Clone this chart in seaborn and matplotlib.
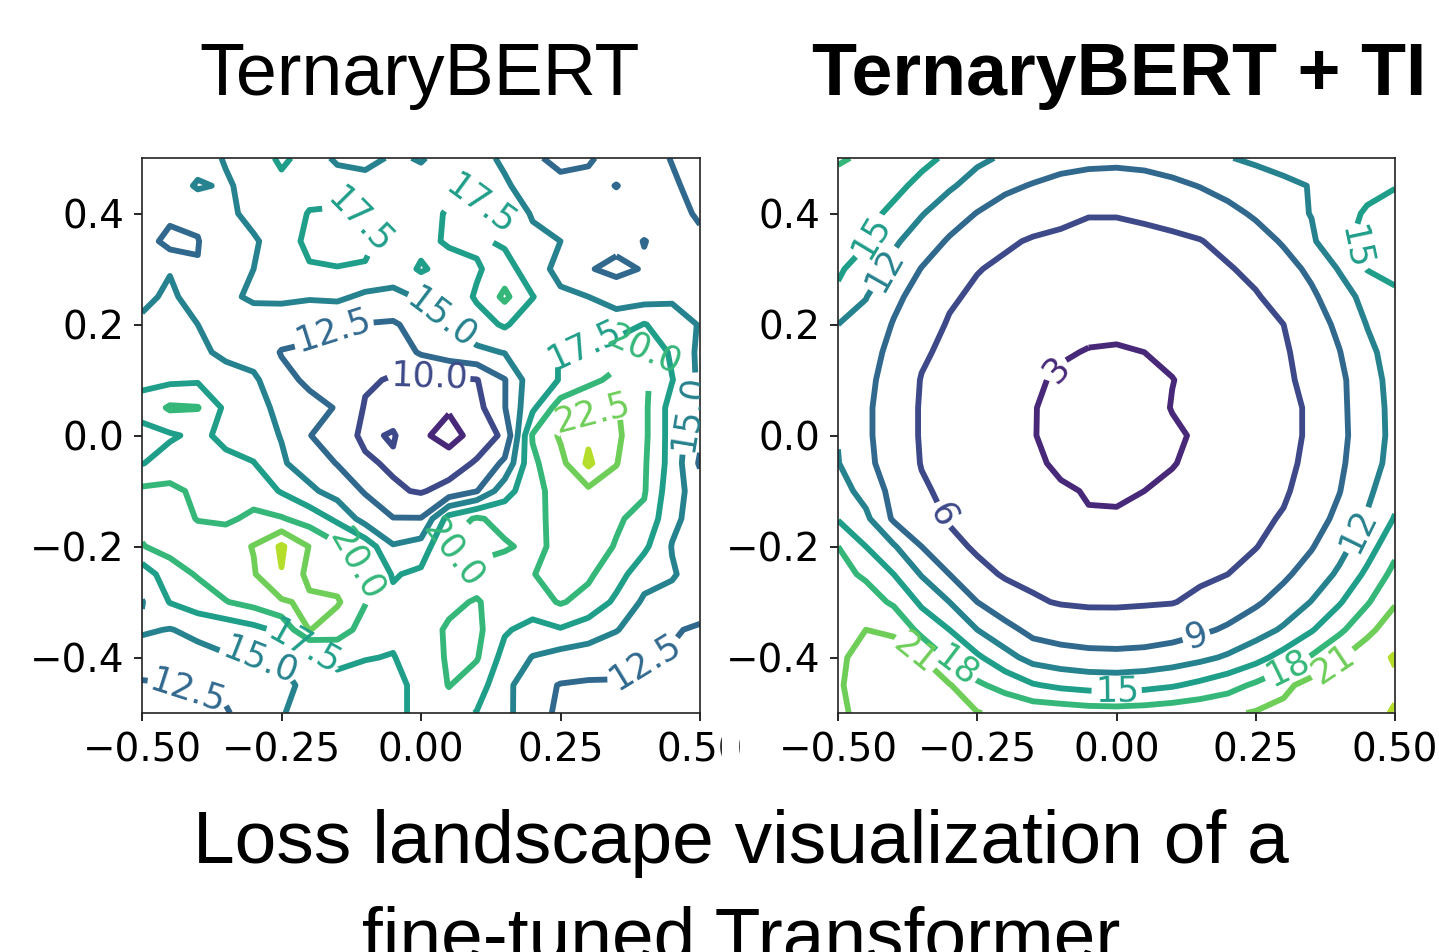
import numpy as np
import matplotlib
matplotlib.use("Agg")
import matplotlib.pyplot as plt
from matplotlib.patches import Rectangle
import seaborn as sns

# 21 x 21 grid, step 0.05; rows run from the top (0.5) to the bottom (-0.5)
alpha = np.linspace(-0.5, 0.5, 21)
beta = np.linspace(0.5, -0.5, 21)

# loss surface, TernaryBERT
loss_ternarybert = [
    [13.5, 13.6, 13.9, 15.2, 16.0, 18.0, 16.5, 14.5, 14.0, 15.4, 14.8, 16.0, 15.8, 14.6, 12.8, 12.0, 12.2, 13.5, 13.4, 12.4, 11.5],
    [13.5, 13.6, 15.3, 14.7, 15.8, 16.8, 16.8, 16.5, 16.3, 16.2, 16.0, 16.8, 17.0, 15.3, 14.0, 13.0, 13.2, 12.45, 13.3, 12.8, 11.8],
    [13.8, 13.3, 13.0, 14.6, 15.5, 16.5, 17.6, 17.8, 17.2, 16.3, 16.4, 17.8, 18.0, 16.5, 14.8, 13.8, 13.5, 13.3, 13.5, 13.0, 12.3],
    [14.0, 11.5, 12.4, 14.5, 14.8, 15.8, 18.3, 18.5, 18.0, 16.5, 16.8, 17.8, 18.0, 17.0, 15.5, 15.0, 14.0, 13.3, 12.45, 13.2, 12.8],
    [14.0, 14.9, 12.6, 13.8, 15.0, 15.4, 17.2, 17.4, 17.3, 16.0, 17.8, 16.5, 17.2, 18.8, 15.8, 14.5, 12.7, 11.8, 12.7, 13.3, 13.5],
    [14.6, 15.3, 14.3, 14.6, 15.3, 15.5, 15.2, 15.5, 14.5, 14.5, 15.2, 15.8, 17.8, 20.5, 17.6, 15.3, 15.0, 14.2, 14.0, 14.5, 14.3],
    [15.3, 15.8, 15.0, 14.0, 14.0, 13.5, 13.5, 12.6, 12.4, 12.2, 13.5, 15.0, 16.5, 17.8, 16.0, 15.5, 15.3, 16.0, 17.6, 16.5, 14.8],
    [16.5, 16.8, 15.5, 14.5, 13.8, 12.4, 12.0, 11.8, 11.5, 11.0, 12.8, 13.8, 14.5, 15.1, 16.5, 17.6, 18.5, 19.2, 20.2, 17.0, 14.5],
    [17.0, 17.0, 17.2, 16.0, 15.5, 13.0, 12.2, 11.5, 10.3, 9.8, 9.5, 9.6, 9.9, 12.4, 16.5, 17.6, 19.5, 20.5, 20.5, 17.6, 14.5],
    [18.3, 20.3, 20.1, 17.0, 16.0, 14.3, 13.0, 12.4, 9.8, 9.0, 8.0, 7.8, 9.2, 12.4, 17.0, 21.3, 21.8, 22.7, 20.5, 16.5, 14.0],
    [16.8, 17.2, 18.0, 17.0, 16.0, 14.9, 12.6, 11.0, 9.6, 10.2, 8.0, 6.5, 8.5, 10.5, 20.2, 22.8, 24.6, 23.0, 20.5, 16.5, 13.0],
    [17.4, 18.5, 19.2, 18.0, 17.6, 15.3, 13.8, 12.4, 10.3, 9.7, 8.5, 8.8, 10.3, 13.0, 19.5, 21.8, 25.4, 22.6, 20.3, 16.5, 12.2],
    [20.5, 20.6, 19.5, 19.0, 19.0, 17.3, 15.5, 14.0, 12.3, 10.3, 9.8, 10.8, 12.4, 16.5, 19.2, 21.0, 22.0, 21.5, 20.2, 16.0, 13.8],
    [20.6, 21.0, 19.9, 19.6, 20.5, 20.2, 19.0, 17.0, 14.0, 12.6, 12.6, 18.5, 20.3, 19.2, 19.3, 20.8, 21.0, 20.2, 19.5, 15.5, 14.0],
    [19.9, 20.7, 21.2, 21.5, 22.6, 25.3, 22.4, 20.5, 19.0, 15.2, 16.0, 20.3, 21.2, 20.3, 19.4, 20.6, 20.7, 19.9, 18.0, 14.9, 14.2],
    [16.0, 19.0, 20.2, 21.3, 22.3, 24.9, 21.8, 21.3, 19.9, 17.3, 18.0, 18.6, 18.8, 18.6, 19.9, 21.0, 20.4, 18.5, 16.0, 15.2, 14.0],
    [14.9, 17.6, 18.8, 19.9, 20.8, 22.2, 23.0, 22.8, 20.1, 18.0, 18.6, 19.5, 20.2, 18.8, 19.0, 20.2, 19.2, 17.0, 14.6, 14.3, 13.6],
    [15.3, 14.9, 15.6, 16.0, 16.8, 18.0, 22.6, 21.0, 19.2, 18.0, 19.0, 20.3, 20.6, 17.8, 16.6, 17.3, 16.2, 15.1, 14.0, 12.7, 12.2],
    [13.8, 13.6, 14.2, 14.8, 15.1, 15.2, 15.6, 18.2, 17.6, 17.4, 18.6, 20.3, 20.2, 16.6, 14.9, 14.0, 13.8, 13.6, 12.6, 12.3, 12.0],
    [12.2, 12.4, 12.8, 13.0, 13.8, 14.4, 15.6, 16.6, 16.6, 17.0, 18.0, 20.1, 18.6, 15.8, 13.2, 12.4, 12.2, 12.2, 12.0, 11.8, 11.6],
    [11.6, 11.8, 12.0, 12.3, 13.6, 14.9, 15.6, 16.0, 16.6, 17.0, 18.0, 18.6, 17.4, 15.6, 13.6, 12.0, 11.8, 11.8, 11.8, 12.0, 12.0],
]

# loss surface, TernaryBERT + TI
loss_ternarybert_ti = [
    [18.3, 17.6, 16.6, 15.6, 14.6, 12.6, 11.6, 10.9, 10.2, 9.8, 9.7, 9.9, 10.4, 11.2, 11.9, 12.4, 12.9, 13.6, 14.2, 14.5, 14.7],
    [17.1, 16.4, 15.6, 14.4, 12.4, 10.8, 9.6, 8.8, 8.1, 7.8, 7.7, 7.9, 8.4, 9.1, 10.0, 10.9, 11.5, 12.1, 13.6, 14.3, 14.9],
    [16.3, 15.7, 14.5, 12.2, 10.3, 8.9, 7.7, 7.0, 6.5, 6.1, 6.1, 6.3, 6.7, 7.3, 8.2, 9.4, 11.0, 12.1, 14.0, 15.3, 15.8],
    [15.7, 15.2, 12.5, 10.4, 8.7, 7.3, 6.3, 5.8, 5.6, 5.4, 5.4, 5.5, 5.6, 5.9, 6.7, 7.8, 9.3, 11.5, 14.5, 15.6, 16.1],
    [15.3, 14.0, 11.0, 8.9, 7.3, 6.1, 5.6, 5.2, 5.0, 4.8, 4.8, 4.8, 5.1, 5.4, 5.8, 6.6, 7.9, 9.6, 12.2, 15.1, 15.6],
    [14.6, 12.1, 9.7, 7.8, 6.3, 5.6, 5.1, 4.7, 4.4, 4.2, 4.1, 4.2, 4.5, 4.8, 5.3, 5.8, 6.9, 8.5, 10.6, 13.0, 14.6],
    [12.0, 11.1, 8.8, 7.0, 5.8, 5.2, 4.6, 4.2, 3.8, 3.5, 3.5, 3.6, 3.9, 4.3, 4.9, 5.4, 6.0, 7.6, 9.6, 12.1, 13.8],
    [11.7, 10.3, 8.1, 6.3, 5.5, 4.9, 4.3, 3.7, 3.2, 2.9, 2.8, 3.0, 3.4, 3.9, 4.5, 5.1, 5.7, 7.0, 8.9, 11.3, 13.3],
    [11.6, 9.8, 7.6, 5.9, 5.3, 4.6, 4.0, 3.3, 2.7, 2.2, 2.1, 2.4, 2.95, 3.6, 4.2, 4.9, 5.6, 6.6, 8.4, 10.8, 13.0],
    [11.7, 9.5, 7.4, 5.8, 5.2, 4.5, 3.8, 3.1, 2.4, 1.7, 1.4, 1.9, 3.1, 3.4, 4.1, 4.8, 5.4, 6.3, 8.4, 10.5, 12.9],
    [11.9, 9.5, 7.4, 5.8, 5.2, 4.5, 3.8, 3.1, 2.3, 1.6, 1.3, 1.9, 2.6, 3.35, 4.05, 4.75, 5.4, 6.3, 8.3, 10.5, 12.8],
    [12.1, 9.7, 7.6, 5.9, 5.3, 4.6, 3.9, 3.3, 2.7, 2.2, 2.0, 2.3, 2.9, 3.5, 4.2, 4.9, 5.5, 6.5, 8.5, 10.8, 13.0],
    [13.2, 11.0, 8.1, 6.3, 5.5, 4.9, 4.3, 3.7, 3.2, 2.9, 2.8, 3.0, 3.4, 3.9, 4.5, 5.1, 5.7, 7.0, 8.9, 11.4, 14.0],
    [14.8, 12.6, 8.6, 7.1, 5.8, 5.3, 4.7, 4.2, 3.5, 3.1, 3.15, 3.4, 4.0, 4.4, 4.9, 5.5, 6.2, 7.7, 9.7, 12.25, 15.2],
    [18.0, 15.0, 12.3, 9.0, 6.6, 5.7, 5.2, 4.8, 4.5, 4.3, 4.3, 4.4, 4.6, 5.0, 5.4, 5.9, 7.2, 8.8, 11.0, 13.7, 17.1],
    [19.0, 17.5, 15.0, 11.8, 9.0, 6.6, 5.8, 5.5, 5.2, 5.1, 5.0, 5.1, 5.3, 5.6, 6.0, 7.1, 8.5, 10.2, 12.5, 15.6, 18.9],
    [19.8, 19.5, 17.5, 14.5, 12.0, 9.0, 7.0, 6.25, 5.85, 5.7, 5.7, 5.8, 5.9, 6.5, 7.4, 8.6, 10.1, 12.1, 14.7, 17.7, 20.7],
    [20.4, 21.0, 20.8, 17.0, 15.0, 12.0, 10.0, 8.1, 7.5, 7.25, 7.2, 7.3, 7.7, 8.45, 9.4, 10.7, 12.4, 14.75, 17.4, 20.2, 22.8],
    [20.6, 21.8, 21.6, 21.0, 17.5, 15.5, 13.0, 11.0, 10.3, 9.9, 9.8, 10.0, 10.5, 11.3, 12.4, 14.0, 16.1, 18.3, 20.7, 22.9, 24.2],
    [20.7, 22.2, 22.0, 21.6, 21.2, 18.5, 17.0, 15.25, 14.4, 13.95, 13.8, 14.1, 14.7, 15.7, 16.9, 18.5, 20.3, 22.1, 22.8, 23.0, 23.6],
    [20.5, 21.8, 22.2, 22.0, 21.6, 21.1, 20.5, 20.0, 19.8, 19.4, 19.3, 19.5, 19.9, 20.3, 20.6, 21.2, 21.8, 22.0, 22.5, 23.2, 24.2],
]

levels_left = [7.5, 10.0, 12.5, 15.0, 17.5, 20.0, 22.5, 25.0]
levels_right = [3, 6, 9, 12, 15, 18, 21, 24]

x_ticks = [-0.5, -0.25, 0.0, 0.25, 0.5]
y_ticks = [-0.4, -0.2, 0.0, 0.2, 0.4]

# where the inline labels sit (data coords), per level
labels_left = {
    10.0: [(0.013, 0.088)],
    12.5: [(-0.15, 0.175), (-0.405, -0.433), (0.392, -0.392)],
    15.0: [(0.08, 0.26), (0.478, 0.04), (-0.285, -0.383)],
    17.5: [(-0.10, 0.40), (0.097, 0.41), (0.30, 0.13), (-0.22, -0.40)],
    20.0: [(0.407, 0.16), (-0.127, -0.24), (0.043, -0.257)],
    22.5: [(0.306, 0.04)],
}
labels_right = {
    3: [(-0.11, 0.12)],
    6: [(-0.305, -0.14)],
    9: [(0.14, -0.35)],
    12: [(-0.41, 0.295), (0.405, -0.155)],
    15: [(-0.455, 0.365), (0.43, 0.34), (0.0, -0.455)],
    18: [(-0.275, -0.395), (0.295, -0.395)],
    21: [(-0.36, -0.39), (0.385, -0.405)],
}

sns.set_style("ticks")
plt.rcParams['font.family'] = ['DejaVu Sans']
plt.rcParams['text.color'] = 'black'
cmap = sns.color_palette("viridis", as_cmap=True)

W, H = 1439, 952
fig = plt.figure(figsize=(W / 100, H / 100), dpi=100)
fig.patch.set_facecolor('white')
ax1 = fig.add_axes([142 / W, 1 - 713 / H, 558 / W, 555 / H])
ax2 = fig.add_axes([838 / W, 1 - 713 / H, 557 / W, 555 / H])

X, Y = np.meshgrid(alpha, beta)


def draw_levels(ax, Z, levels, labels, vmin, vmax, fmt):
    # one contour set per level so each can be labelled by hand
    for lev in levels:
        cs = ax.contour(X, Y, Z, levels=[lev], cmap=cmap, vmin=vmin, vmax=vmax,
                        linewidths=4.2)
        if lev in labels:
            cs.clabel(manual=labels[lev], fmt=fmt, fontsize=25, inline_spacing=3)


draw_levels(ax1, np.array(loss_ternarybert), levels_left, labels_left, 5, 27.5, '%.1f')
draw_levels(ax2, np.array(loss_ternarybert_ti), levels_right, labels_right, 0, 27, '%d')

for ax in (ax1, ax2):
    ax.set_xlim(-0.5, 0.5)
    ax.set_ylim(-0.5, 0.5)
    ax.set_xticks(x_ticks)
    ax.set_yticks(y_ticks)
    ax.tick_params(labelsize=28, length=6, width=1.2, pad=7, colors='black')
    for s in ax.spines.values():
        s.set_visible(True)
        s.set_color('#222222')
        s.set_linewidth(1.2)

# the left panel's last tick label is cut off by the right panel in the original
fig.add_artist(Rectangle((722 / W, 1 - 775 / H), 16 / W, 55 / H,
                         transform=fig.transFigure, color='white', zorder=10))

fig.text(420 / W, 1 - 95 / H, "TernaryBERT", ha='center', va='baseline',
         fontsize=53, family='Liberation Sans', color='black')
fig.text(812 / W, 1 - 95 / H, "TernaryBERT + TI", ha='left', va='baseline',
         fontsize=53, family='Liberation Sans', fontweight='bold', color='black')
fig.text(741 / W, 1 - 863 / H, "Loss landscape visualization of a", ha='center',
         va='baseline', fontsize=54, family='Liberation Sans', color='black')
fig.text(741 / W, 1 - 959 / H, "fine-tuned Transformer", ha='center',
         va='baseline', fontsize=54, family='Liberation Sans', color='black')

fig.savefig("out.png", dpi=100)
